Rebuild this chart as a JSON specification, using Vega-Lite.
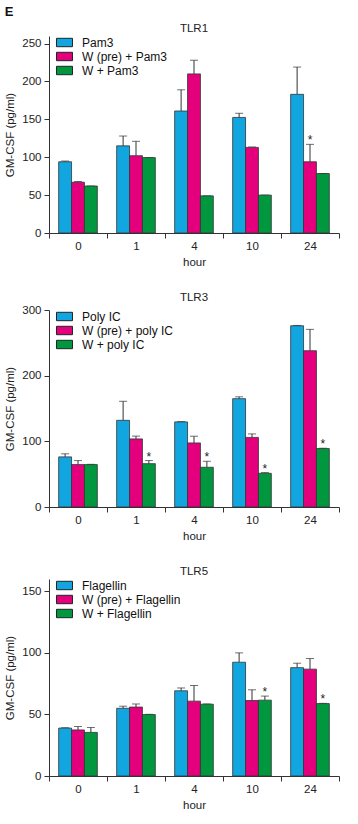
{
  "$schema": "https://vega.github.io/schema/vega-lite/v6.json",
  "padding": {"left": 4, "top": 5, "right": 5, "bottom": 5},
  "title": {"text": "E", "anchor": "start", "fontSize": 13, "fontWeight": "bold", "color": "#111", "offset": 4},
  "datasets": {
    "tlr1": [
      {"hour": "0", "grp": 1, "treatment": "Pam3", "value": 94, "upper": 95, "star": ""},
      {"hour": "0", "grp": 2, "treatment": "W (pre) + Pam3", "value": 67, "upper": 68, "star": ""},
      {"hour": "0", "grp": 3, "treatment": "W + Pam3", "value": 62, "upper": 62, "star": ""},
      {"hour": "1", "grp": 1, "treatment": "Pam3", "value": 115, "upper": 128, "star": ""},
      {"hour": "1", "grp": 2, "treatment": "W (pre) + Pam3", "value": 102, "upper": 121, "star": ""},
      {"hour": "1", "grp": 3, "treatment": "W + Pam3", "value": 99.5, "upper": 99.5, "star": ""},
      {"hour": "4", "grp": 1, "treatment": "Pam3", "value": 161, "upper": 189, "star": ""},
      {"hour": "4", "grp": 2, "treatment": "W (pre) + Pam3", "value": 210, "upper": 228, "star": ""},
      {"hour": "4", "grp": 3, "treatment": "W + Pam3", "value": 49, "upper": 49, "star": ""},
      {"hour": "10", "grp": 1, "treatment": "Pam3", "value": 152.5, "upper": 158, "star": ""},
      {"hour": "10", "grp": 2, "treatment": "W (pre) + Pam3", "value": 113, "upper": 113.5, "star": ""},
      {"hour": "10", "grp": 3, "treatment": "W + Pam3", "value": 50, "upper": 50, "star": ""},
      {"hour": "24", "grp": 1, "treatment": "Pam3", "value": 183, "upper": 219, "star": ""},
      {"hour": "24", "grp": 2, "treatment": "W (pre) + Pam3", "value": 94, "upper": 117, "star": "*"},
      {"hour": "24", "grp": 3, "treatment": "W + Pam3", "value": 78.5, "upper": 78.5, "star": ""}
    ],
    "tlr3": [
      {"hour": "0", "grp": 1, "treatment": "Poly IC", "value": 76.3, "upper": 81, "star": ""},
      {"hour": "0", "grp": 2, "treatment": "W (pre) + poly IC", "value": 64.6, "upper": 70.7, "star": ""},
      {"hour": "0", "grp": 3, "treatment": "W + poly IC", "value": 64.6, "upper": 65, "star": ""},
      {"hour": "1", "grp": 1, "treatment": "Poly IC", "value": 132, "upper": 161, "star": ""},
      {"hour": "1", "grp": 2, "treatment": "W (pre) + poly IC", "value": 103.7, "upper": 108, "star": ""},
      {"hour": "1", "grp": 3, "treatment": "W + poly IC", "value": 66, "upper": 70.7, "star": "*"},
      {"hour": "4", "grp": 1, "treatment": "Poly IC", "value": 129.6, "upper": 130, "star": ""},
      {"hour": "4", "grp": 2, "treatment": "W (pre) + poly IC", "value": 97.6, "upper": 107.8, "star": ""},
      {"hour": "4", "grp": 3, "treatment": "W + poly IC", "value": 60.5, "upper": 69.6, "star": "*"},
      {"hour": "10", "grp": 1, "treatment": "Poly IC", "value": 165, "upper": 167.8, "star": ""},
      {"hour": "10", "grp": 2, "treatment": "W (pre) + poly IC", "value": 106, "upper": 111.3, "star": ""},
      {"hour": "10", "grp": 3, "treatment": "W + poly IC", "value": 51.3, "upper": 52.4, "star": "*"},
      {"hour": "24", "grp": 1, "treatment": "Poly IC", "value": 276, "upper": 276.5, "star": ""},
      {"hour": "24", "grp": 2, "treatment": "W (pre) + poly IC", "value": 238, "upper": 270.5, "star": ""},
      {"hour": "24", "grp": 3, "treatment": "W + poly IC", "value": 89, "upper": 89.5, "star": "*"}
    ],
    "tlr5": [
      {"hour": "0", "grp": 1, "treatment": "Flagellin", "value": 38.9, "upper": 39.2, "star": ""},
      {"hour": "0", "grp": 2, "treatment": "W (pre) + Flagellin", "value": 37.4, "upper": 40.2, "star": ""},
      {"hour": "0", "grp": 3, "treatment": "W + Flagellin", "value": 35.4, "upper": 39.4, "star": ""},
      {"hour": "1", "grp": 1, "treatment": "Flagellin", "value": 55, "upper": 56.7, "star": ""},
      {"hour": "1", "grp": 2, "treatment": "W (pre) + Flagellin", "value": 56, "upper": 58.5, "star": ""},
      {"hour": "1", "grp": 3, "treatment": "W + Flagellin", "value": 49.9, "upper": 50.1, "star": ""},
      {"hour": "4", "grp": 1, "treatment": "Flagellin", "value": 69.2, "upper": 71.5, "star": ""},
      {"hour": "4", "grp": 2, "treatment": "W (pre) + Flagellin", "value": 60.8, "upper": 73.5, "star": ""},
      {"hour": "4", "grp": 3, "treatment": "W + Flagellin", "value": 58.3, "upper": 58.5, "star": ""},
      {"hour": "10", "grp": 1, "treatment": "Flagellin", "value": 92.4, "upper": 100, "star": ""},
      {"hour": "10", "grp": 2, "treatment": "W (pre) + Flagellin", "value": 61.3, "upper": 70, "star": ""},
      {"hour": "10", "grp": 3, "treatment": "W + Flagellin", "value": 61.6, "upper": 64.9, "star": "*"},
      {"hour": "24", "grp": 1, "treatment": "Flagellin", "value": 88, "upper": 91.6, "star": ""},
      {"hour": "24", "grp": 2, "treatment": "W (pre) + Flagellin", "value": 86.8, "upper": 95.4, "star": ""},
      {"hour": "24", "grp": 3, "treatment": "W + Flagellin", "value": 58.8, "upper": 59, "star": "*"}
    ]
  },
  "vconcat": [
    {
      "width": 290, "height": 197,
      "title": {"text": "TLR1"},
      "data": {"name": "tlr1"},
      "encoding": {
        "x": {"field": "hour", "type": "nominal", "sort": ["0", "1", "4", "10", "24"], "scale": {"paddingInner": 0, "paddingOuter": 0}, "axis": {"title": "hour", "labelAngle": 0, "tickBand": "extent"}},
        "xOffset": {"field": "grp", "type": "nominal", "scale": {"domain": [1, 2, 3], "paddingInner": 0, "paddingOuter": 0.75}}
      },
      "layer": [
        {"mark": {"type": "rule", "color": "#333", "strokeWidth": 1},
         "encoding": {"y": {"field": "value", "type": "quantitative", "scale": {"domain": [0, 250]}, "axis": {"values": [0, 50, 100, 150, 200, 250], "title": "GM-CSF (pg/ml)"}}, "y2": {"field": "upper"}}},
        {"mark": {"type": "tick", "color": "#333", "size": 8, "thickness": 1},
         "encoding": {"y": {"field": "upper", "type": "quantitative", "axis": {"values": [0, 50, 100, 150, 200, 250], "title": "GM-CSF (pg/ml)"}}}},
        {"mark": {"type": "bar", "stroke": "#333", "strokeWidth": 0.8},
         "encoding": {"y": {"field": "value", "type": "quantitative", "axis": {"values": [0, 50, 100, 150, 200, 250], "title": "GM-CSF (pg/ml)"}},
           "color": {"field": "treatment", "type": "nominal", "scale": {"domain": ["Pam3", "W (pre) + Pam3", "W + Pam3"], "range": ["#12A6E0", "#E4007C", "#00973F"]}, "legend": {"title": null}}}},
        {"mark": {"type": "text", "baseline": "alphabetic", "fontSize": 12, "color": "#222"},
         "encoding": {"y": {"field": "upper", "type": "quantitative", "axis": {"values": [0, 50, 100, 150, 200, 250], "title": "GM-CSF (pg/ml)"}}, "text": {"field": "star"}}}
      ]
    },
    {
      "width": 290, "height": 197,
      "title": {"text": "TLR3"},
      "data": {"name": "tlr3"},
      "encoding": {
        "x": {"field": "hour", "type": "nominal", "sort": ["0", "1", "4", "10", "24"], "scale": {"paddingInner": 0, "paddingOuter": 0}, "axis": {"title": "hour", "labelAngle": 0, "tickBand": "extent"}},
        "xOffset": {"field": "grp", "type": "nominal", "scale": {"domain": [1, 2, 3], "paddingInner": 0, "paddingOuter": 0.75}}
      },
      "layer": [
        {"mark": {"type": "rule", "color": "#333", "strokeWidth": 1},
         "encoding": {"y": {"field": "value", "type": "quantitative", "scale": {"domain": [0, 300]}, "axis": {"values": [0, 100, 200, 300], "title": "GM-CSF (pg/ml)"}}, "y2": {"field": "upper"}}},
        {"mark": {"type": "tick", "color": "#333", "size": 8, "thickness": 1},
         "encoding": {"y": {"field": "upper", "type": "quantitative", "axis": {"values": [0, 100, 200, 300], "title": "GM-CSF (pg/ml)"}}}},
        {"mark": {"type": "bar", "stroke": "#333", "strokeWidth": 0.8},
         "encoding": {"y": {"field": "value", "type": "quantitative", "axis": {"values": [0, 100, 200, 300], "title": "GM-CSF (pg/ml)"}},
           "color": {"field": "treatment", "type": "nominal", "scale": {"domain": ["Poly IC", "W (pre) + poly IC", "W + poly IC"], "range": ["#12A6E0", "#E4007C", "#00973F"]}, "legend": {"title": null}}}},
        {"mark": {"type": "text", "baseline": "alphabetic", "fontSize": 12, "color": "#222"},
         "encoding": {"y": {"field": "upper", "type": "quantitative", "axis": {"values": [0, 100, 200, 300], "title": "GM-CSF (pg/ml)"}}, "text": {"field": "star"}}}
      ]
    },
    {
      "width": 290, "height": 197,
      "title": {"text": "TLR5"},
      "data": {"name": "tlr5"},
      "encoding": {
        "x": {"field": "hour", "type": "nominal", "sort": ["0", "1", "4", "10", "24"], "scale": {"paddingInner": 0, "paddingOuter": 0}, "axis": {"title": "hour", "labelAngle": 0, "tickBand": "extent"}},
        "xOffset": {"field": "grp", "type": "nominal", "scale": {"domain": [1, 2, 3], "paddingInner": 0, "paddingOuter": 0.75}}
      },
      "layer": [
        {"mark": {"type": "rule", "color": "#333", "strokeWidth": 1},
         "encoding": {"y": {"field": "value", "type": "quantitative", "scale": {"domain": [0, 150]}, "axis": {"values": [0, 50, 100, 150], "title": "GM-CSF (pg/ml)"}}, "y2": {"field": "upper"}}},
        {"mark": {"type": "tick", "color": "#333", "size": 8, "thickness": 1},
         "encoding": {"y": {"field": "upper", "type": "quantitative", "axis": {"values": [0, 50, 100, 150], "title": "GM-CSF (pg/ml)"}}}},
        {"mark": {"type": "bar", "stroke": "#333", "strokeWidth": 0.8},
         "encoding": {"y": {"field": "value", "type": "quantitative", "axis": {"values": [0, 50, 100, 150], "title": "GM-CSF (pg/ml)"}},
           "color": {"field": "treatment", "type": "nominal", "scale": {"domain": ["Flagellin", "W (pre) + Flagellin", "W + Flagellin"], "range": ["#12A6E0", "#E4007C", "#00973F"]}, "legend": {"title": null}}}},
        {"mark": {"type": "text", "baseline": "alphabetic", "fontSize": 12, "color": "#222"},
         "encoding": {"y": {"field": "upper", "type": "quantitative", "axis": {"values": [0, 50, 100, 150], "title": "GM-CSF (pg/ml)"}}, "text": {"field": "star"}}}
      ]
    }
  ],
  "spacing": 23,
  "resolve": {"scale": {"x": "independent", "y": "independent", "xOffset": "independent", "color": "independent"}, "legend": {"color": "independent"}},
  "config": {
    "font": "Liberation Sans",
    "view": {"stroke": null},
    "axis": {"domainColor": "#333", "tickColor": "#333", "labelColor": "#222", "titleColor": "#222", "labelFontSize": 11.5, "titleFontSize": 11.5, "titleFontWeight": "normal", "grid": false, "tickSize": 5, "domainWidth": 1, "tickWidth": 1, "labelPadding": 2},
    "axisX": {"titlePadding": 5},
    "axisY": {"titlePadding": 6, "labelPadding": 3},
    "title": {"fontSize": 11.5, "fontWeight": "normal", "color": "#222", "offset": 1},
    "legend": {"orient": "none", "legendX": 8, "legendY": -1, "symbolType": "M-1.2,-0.63H1.2V0.63H-1.2Z", "symbolSize": 177, "symbolStrokeColor": "#222", "symbolStrokeWidth": 1, "symbolOpacity": 1, "labelFontSize": 12, "labelColor": "#111", "labelOffset": 10, "rowPadding": 0, "padding": 0}
  }
}
